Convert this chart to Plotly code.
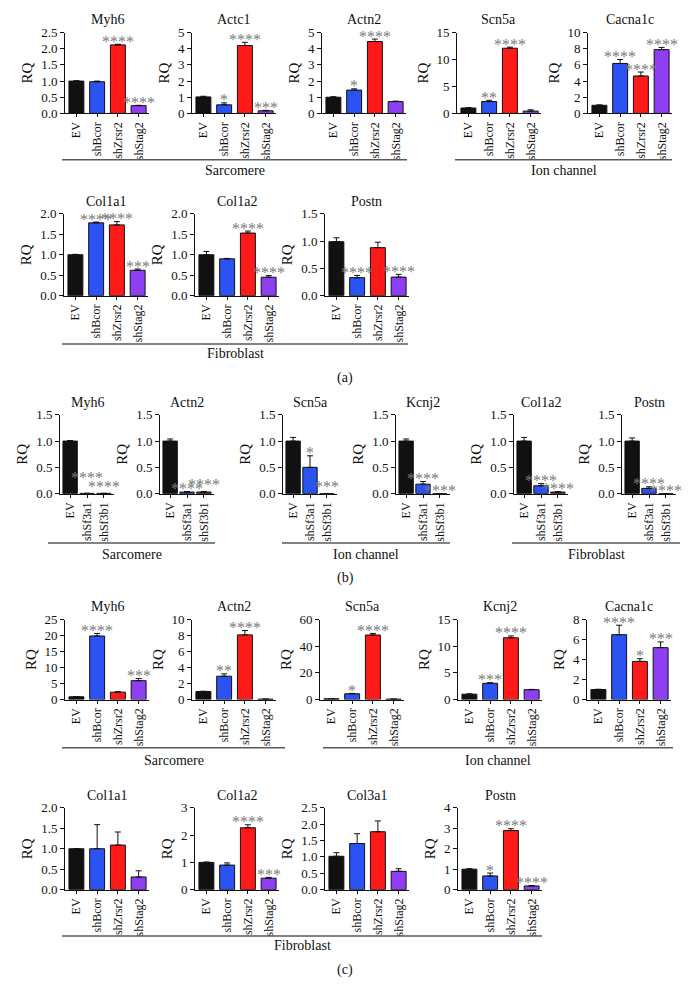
import plotly.graph_objects as go

W, H = 694, 1005
FONT = "Liberation Serif"

COND_A = ["EV", "shBcor", "shZrsr2", "shStag2"]
COND_B = ["EV", "shSf3a1", "shSf3b1"]
COLORS_A = ["#111111", "#2B52F3", "#FF1A1A", "#8F3FF2"]
COLORS_B = ["#111111", "#2B52F3", "#8E2020"]

# ---- panel (a) ----
a_myh6 = [1.00, 0.98, 2.12, 0.24]; a_myh6_err = [0.01, 0.02, 0.02, 0.01]; a_myh6_sig = ["", "", "****", "****"]
a_actc1 = [1.02, 0.53, 4.20, 0.16]; a_actc1_err = [0.04, 0.12, 0.20, 0.03]; a_actc1_sig = ["", "*", "****", "***"]
a_actn2 = [1.00, 1.44, 4.45, 0.73]; a_actn2_err = [0.03, 0.08, 0.15, 0.03]; a_actn2_sig = ["", "*", "****", ""]
a_scn5a = [1.00, 2.20, 12.1, 0.43]; a_scn5a_err = [0.05, 0.23, 0.20, 0.24]; a_scn5a_sig = ["", "**", "****", ""]
a_cacna1c = [1.00, 6.18, 4.63, 7.89]; a_cacna1c_err = [0.05, 0.49, 0.49, 0.28]; a_cacna1c_sig = ["", "****", "****", "****"]
a_col1a1 = [1.00, 1.78, 1.73, 0.62]; a_col1a1_err = [0.01, 0.02, 0.08, 0.03]; a_col1a1_sig = ["", "****", "****", "***"]
a_col1a2 = [1.00, 0.90, 1.53, 0.45]; a_col1a2_err = [0.08, 0.01, 0.05, 0.04]; a_col1a2_sig = ["", "", "****", "****"]
a_postn = [0.99, 0.33, 0.88, 0.34]; a_postn_err = [0.07, 0.04, 0.10, 0.05]; a_postn_sig = ["", "****", "", "****"]

# ---- panel (b) ----
b_myh6 = [1.00, 0.005, 0.005]; b_myh6_err = [0.01, 0.0, 0.0]; b_myh6_sig = ["", "****", "****"]
b_actn2 = [1.00, 0.03, 0.03]; b_actn2_err = [0.04, 0.01, 0.01]; b_actn2_sig = ["", "****", "****"]
b_scn5a = [1.00, 0.50, 0.0]; b_scn5a_err = [0.07, 0.22, 0.0]; b_scn5a_sig = ["", "*", "***"]
b_kcnj2 = [1.00, 0.18, 0.0]; b_kcnj2_err = [0.04, 0.05, 0.0]; b_kcnj2_sig = ["", "****", "****"]
b_col1a2 = [1.00, 0.15, 0.03]; b_col1a2_err = [0.07, 0.04, 0.01]; b_col1a2_sig = ["", "****", "****"]
b_postn = [1.00, 0.10, 0.0]; b_postn_err = [0.06, 0.03, 0.0]; b_postn_sig = ["", "****", "****"]

# ---- panel (c) ----
c_myh6 = [0.85, 19.9, 2.3, 5.9]; c_myh6_err = [0.05, 0.8, 0.15, 0.7]; c_myh6_sig = ["", "****", "", "***"]
c_actn2 = [1.00, 2.92, 8.1, 0.05]; c_actn2_err = [0.04, 0.3, 0.55, 0.0]; c_actn2_sig = ["", "**", "****", ""]
c_scn5a = [0.6, 4.3, 48.5, 0.3]; c_scn5a_err = [0.05, 0.3, 1.2, 0.0]; c_scn5a_sig = ["", "*", "****", ""]
c_kcnj2 = [1.00, 3.05, 11.6, 1.85]; c_kcnj2_err = [0.05, 0.1, 0.35, 0.05]; c_kcnj2_sig = ["", "***", "****", ""]
c_cacna1c = [1.00, 6.5, 3.82, 5.2]; c_cacna1c_err = [0.03, 0.95, 0.27, 0.57]; c_cacna1c_sig = ["", "****", "*", "***"]
c_col1a1 = [1.00, 1.00, 1.09, 0.31]; c_col1a1_err = [0.0, 0.59, 0.32, 0.15]; c_col1a1_sig = ["", "", "", ""]
c_col1a2 = [1.00, 0.90, 2.27, 0.42]; c_col1a2_err = [0.01, 0.08, 0.11, 0.03]; c_col1a2_sig = ["", "", "****", "***"]
c_col3a1 = [1.02, 1.41, 1.77, 0.56]; c_col3a1_err = [0.11, 0.30, 0.33, 0.08]; c_col3a1_sig = ["", "", "", ""]
c_postn = [1.00, 0.67, 2.89, 0.18]; c_postn_err = [0.02, 0.14, 0.09, 0.02]; c_postn_sig = ["", "*", "****", "****"]

charts = [
    ("Myh6", COND_A, a_myh6, a_myh6_err, a_myh6_sig, 2.5, 0.5, ".1f"),
    ("Actc1", COND_A, a_actc1, a_actc1_err, a_actc1_sig, 5, 1, "d"),
    ("Actn2", COND_A, a_actn2, a_actn2_err, a_actn2_sig, 5, 1, "d"),
    ("Scn5a", COND_A, a_scn5a, a_scn5a_err, a_scn5a_sig, 15, 5, "d"),
    ("Cacna1c", COND_A, a_cacna1c, a_cacna1c_err, a_cacna1c_sig, 10, 2, "d"),
    ("Col1a1", COND_A, a_col1a1, a_col1a1_err, a_col1a1_sig, 2.0, 0.5, ".1f"),
    ("Col1a2", COND_A, a_col1a2, a_col1a2_err, a_col1a2_sig, 2.0, 0.5, ".1f"),
    ("Postn", COND_A, a_postn, a_postn_err, a_postn_sig, 1.5, 0.5, ".1f"),
    ("Myh6", COND_B, b_myh6, b_myh6_err, b_myh6_sig, 1.5, 0.5, ".1f"),
    ("Actn2", COND_B, b_actn2, b_actn2_err, b_actn2_sig, 1.5, 0.5, ".1f"),
    ("Scn5a", COND_B, b_scn5a, b_scn5a_err, b_scn5a_sig, 1.5, 0.5, ".1f"),
    ("Kcnj2", COND_B, b_kcnj2, b_kcnj2_err, b_kcnj2_sig, 1.5, 0.5, ".1f"),
    ("Col1a2", COND_B, b_col1a2, b_col1a2_err, b_col1a2_sig, 1.5, 0.5, ".1f"),
    ("Postn", COND_B, b_postn, b_postn_err, b_postn_sig, 1.5, 0.5, ".1f"),
    ("Myh6", COND_A, c_myh6, c_myh6_err, c_myh6_sig, 25, 5, "d"),
    ("Actn2", COND_A, c_actn2, c_actn2_err, c_actn2_sig, 10, 2, "d"),
    ("Scn5a", COND_A, c_scn5a, c_scn5a_err, c_scn5a_sig, 60, 20, "d"),
    ("Kcnj2", COND_A, c_kcnj2, c_kcnj2_err, c_kcnj2_sig, 15, 5, "d"),
    ("Cacna1c", COND_A, c_cacna1c, c_cacna1c_err, c_cacna1c_sig, 8, 2, "d"),
    ("Col1a1", COND_A, c_col1a1, c_col1a1_err, c_col1a1_sig, 2.0, 0.5, ".1f"),
    ("Col1a2", COND_A, c_col1a2, c_col1a2_err, c_col1a2_sig, 3, 1, "d"),
    ("Col3a1", COND_A, c_col3a1, c_col3a1_err, c_col3a1_sig, 2.5, 0.5, ".1f"),
    ("Postn", COND_A, c_postn, c_postn_err, c_postn_sig, 4, 1, "d"),
]

# layout boxes in pixels: (axis x, width, top y, bottom y)
boxes = [
    (65, 84, 26, 108), (192, 84, 26, 108), (322, 84, 26, 108), (457, 84, 26, 108), (588, 84, 26, 108),
    (64, 84, 210, 293), (195, 84, 210, 293), (325, 84, 210, 293),
    (60, 54, 414, 494), (160, 54, 414, 494), (283, 54, 414, 494), (396, 54, 414, 494), (514, 54, 414, 494), (622, 54, 414, 494),
    (65, 84, 622, 703), (192, 84, 622, 703), (320, 84, 622, 703), (458, 84, 622, 703), (587, 84, 622, 703),
    (65, 84, 813, 896), (195, 84, 813, 896), (325, 84, 813, 896), (458, 84, 813, 896),
]

# extra upward lift (px) of some significance labels, to stagger them as in the original
star_lift = {(8, 1): 13, (8, 2): 4, (9, 2): 4, (10, 2): 4}

groups = [
    ("Sarcomere", 62, 407, 155, 166),
    ("Ion channel", 455, 672, 155, 166),
    ("Fibroblast", 62, 408, 342, 352),
    ("Sarcomere", 48, 215, 544, 556),
    ("Ion channel", 282, 450, 544, 556),
    ("Fibroblast", 512, 680, 544, 556),
    ("Sarcomere", 62, 285, 752, 765),
    ("Ion channel", 323, 673, 752, 765),
    ("Fibroblast", 62, 542, 943, 953),
]
panel_labels = [("(a)", 345, 377), ("(b)", 345, 580), ("(c)", 345, 978)]

fig = go.Figure()
annotations = []
shapes = []
layout_axes = {}

for i, (title, cond, vals, errs, sig, ymax, dtick, fmt) in enumerate(charts):
    k = i + 1
    xa, ya = f"x{k}", f"y{k}"
    xn, yn = ("xaxis" if k == 1 else f"xaxis{k}"), ("yaxis" if k == 1 else f"yaxis{k}")
    ax, w, yt, yb = boxes[i]
    n = len(cond)
    colors = COLORS_A if n == 4 else COLORS_B
    bw = 0.72 if n == 4 else 0.85
    fig.add_trace(go.Bar(
        x=cond, y=vals, xaxis=xa, yaxis=ya, width=bw,
        marker=dict(color=colors, line=dict(color="#111111", width=1)),
        error_y=dict(type="data", array=errs, arrayminus=[0] * n, symmetric=False,
                     color="#111111", thickness=1, width=3),
        showlegend=False, hoverinfo="skip",
    ))
    rng = [-0.55, n - 0.5] if n == 4 else [-0.6, n - 0.4]
    layout_axes[xn] = dict(
        domain=[ax / W, (ax + w) / W], anchor=ya, range=rng, type="category",
        showline=True, linecolor="#111111", linewidth=1, ticks="outside", ticklen=3,
        tickcolor="#111111", tickangle=-90, tickfont=dict(family=FONT, size=12, color="#111111"),
        showgrid=False, zeroline=False, fixedrange=True,
    )
    layout_axes[yn] = dict(
        domain=[1 - yb / H, 1 - yt / H], anchor=xa, range=[0, ymax], dtick=dtick, tick0=0,
        tickformat=fmt, showline=True, linecolor="#111111", linewidth=1, ticks="outside",
        ticklen=4, tickcolor="#111111", tickfont=dict(family=FONT, size=13, color="#111111"),
        title=dict(text="RQ", font=dict(family=FONT, size=15, color="#111111"), standoff=4),
        showgrid=False, zeroline=False, fixedrange=True,
    )
    annotations.append(dict(
        text=title, x=(ax + w / 2) / W, y=1 - (yt - 13) / H, xref="paper", yref="paper",
        xanchor="center", yanchor="middle", showarrow=False,
        font=dict(family=FONT, size=14, color="#111111"),
    ))
    for j, (c, v, e, s) in enumerate(zip(cond, vals, errs, sig)):
        if s:
            annotations.append(dict(
                text=s, x=c, y=v + e, xref=xa, yref=ya,
                xanchor="center", yanchor="middle", showarrow=False,
                yshift=3 + star_lift.get((i, j), 0),
                font=dict(family=FONT, size=16, color="#7a7a7a"),
            ))

for name, x0, x1, yl, yt in groups:
    shapes.append(dict(type="line", xref="paper", yref="paper", x0=x0 / W, x1=x1 / W,
                       y0=1 - yl / H, y1=1 - yl / H, line=dict(color="#5a5a5a", width=1.5)))
    annotations.append(dict(
        text=name, x=(x0 + x1) / 2 / W, y=1 - yt / H, xref="paper", yref="paper",
        xanchor="center", yanchor="middle", showarrow=False,
        font=dict(family=FONT, size=14, color="#111111"),
    ))

for name, x, y in panel_labels:
    annotations.append(dict(
        text=name, x=x / W, y=1 - y / H, xref="paper", yref="paper",
        xanchor="center", yanchor="middle", showarrow=False,
        font=dict(family=FONT, size=14, color="#111111"),
    ))

fig.update_layout(
    width=W, height=H, margin=dict(l=0, r=0, t=0, b=0),
    paper_bgcolor="white", plot_bgcolor="white", bargap=0.2,
    annotations=annotations, shapes=shapes, **layout_axes,
)

fig.write_html(
    "out.html",
    config={"displayModeBar": False},
    post_script="document.body.style.margin='0px';document.body.style.padding='0px';"
                "document.documentElement.style.overflow='hidden';",
)
